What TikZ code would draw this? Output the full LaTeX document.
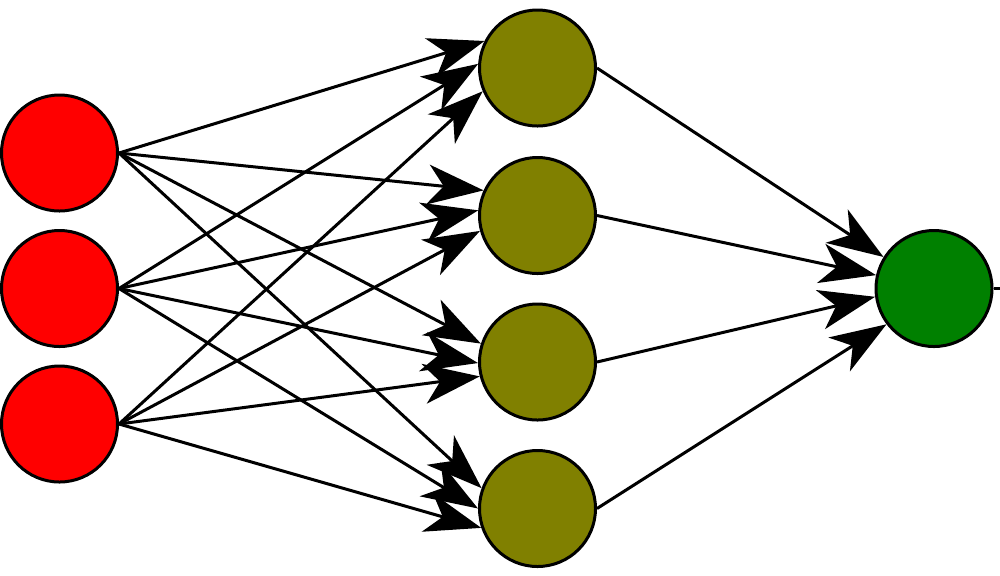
\documentclass[tikz,border=0pt]{standalone}
\usetikzlibrary{arrows.meta}
\definecolor{inred}{RGB}{255,0,0}
\definecolor{hidolive}{RGB}{128,128,0}
\definecolor{outgreen}{RGB}{0,128,0}
\begin{document}
\begin{tikzpicture}[x=0.5pt,y=-0.5pt,
  neuron/.style={circle,draw=black,line width=1.5pt,inner sep=0pt,minimum size=58pt},
  conn/.style={line width=1.5pt,-{Stealth[length=28pt,width=20pt,inset=8pt]}},
  outline/.style={line width=1.8pt}]
\useasboundingbox (0,0) rectangle (1000,575);
\node[neuron,fill=inred] (i1) at (59.5,153) {};
\node[neuron,fill=inred] (i2) at (59.5,288.5) {};
\node[neuron,fill=inred] (i3) at (59.5,424) {};
\node[neuron,fill=hidolive] (h1) at (537.5,68) {};
\node[neuron,fill=hidolive] (h2) at (537.5,215.5) {};
\node[neuron,fill=hidolive] (h3) at (537.5,362) {};
\node[neuron,fill=hidolive] (h4) at (537.5,508.5) {};
\node[neuron,fill=outgreen] (o) at (934,288.5) {};
\coordinate (out) at (1000,288.5);
% input -> hidden 1
\draw[conn] (i1.east) -- (h1.153);
\draw[conn] (i2.east) -- (h1.176);
\draw[conn] (i3.east) -- (h1.203);
% input -> hidden 2
\draw[conn] (i1.east) -- (h2.155);
\draw[conn] (i2.east) -- (h2.175);
\draw[conn] (i3.east) -- (h2.195);
% input -> hidden 3
\draw[conn] (i1.east) -- (h3.162);
\draw[conn] (i2.east) -- (h3.181);
\draw[conn] (i3.east) -- (h3.194);
% input -> hidden 4
\draw[conn] (i1.east) -- (h4.160);
\draw[conn] (i2.east) -- (h4.180);
\draw[conn] (i3.east) -- (h4.199);
% hidden -> output
\draw[conn] (h1.east) -- (o.148);
\draw[conn] (h2.east) -- (o.167);
\draw[conn] (h3.east) -- (o.188);
\draw[conn] (h4.east) -- (o.217);
\draw[outline] (o.east) -- (out);
\end{tikzpicture}
\end{document}
